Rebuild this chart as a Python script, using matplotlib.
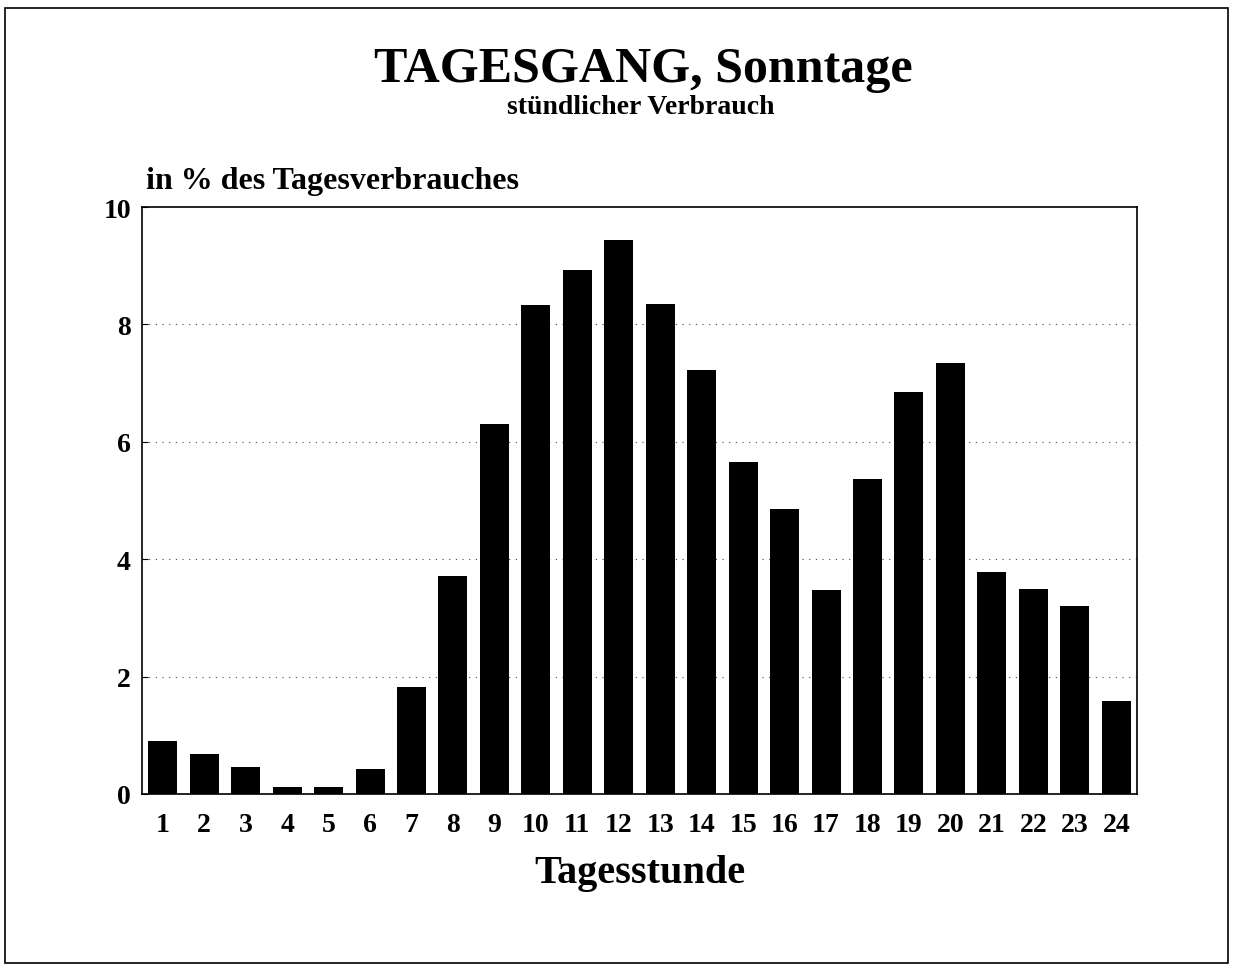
import matplotlib

matplotlib.use("Agg")
import matplotlib.pyplot as plt
from matplotlib.patches import Rectangle

# Stündlicher Verbrauch an Sonntagen, in % des Tagesverbrauches
hours = list(range(1, 25))
share = [
    0.90, 0.68, 0.46, 0.12, 0.12, 0.42, 1.82, 3.72, 6.31, 8.33, 8.93, 9.44,
    8.35, 7.23, 5.65, 4.85, 3.47, 5.36, 6.85, 7.35, 3.78, 3.49, 3.20, 1.58,
]
y_ticks = [0, 2, 4, 6, 8, 10]

plt.rcParams["font.family"] = ["Liberation Serif", "DejaVu Serif"]
plt.rcParams["font.weight"] = "bold"

fig = plt.figure(figsize=(12.33, 9.70), dpi=100)
ax = fig.add_axes([142 / 1233, 1 - 795 / 970, (1137 - 142) / 1233, (795 - 208) / 970])

ax.bar(hours, share, width=0.70, color="black", zorder=3)

ax.set_xlim(0.5, 24.5)
ax.set_ylim(0, 10)
ax.set_xticks(hours)
ax.set_yticks(y_ticks)
ax.tick_params(axis="both", labelsize=20, length=4, direction="in", pad=8)
ax.tick_params(axis="x", length=0, pad=13)
for lbl in ax.get_xticklabels() + ax.get_yticklabels():
    lbl.set_fontweight("bold")

for y in y_ticks[1:-1]:
    ax.axhline(y, color="#444444", linestyle=(0, (1, 5)), linewidth=0.8, zorder=1)

for side in ax.spines.values():
    side.set_linewidth(1.2)

ax.set_xlabel("Tagesstunde", fontsize=29, fontweight="bold", labelpad=12)

fig.text(0.522, 1 - 70 / 970, "TAGESGANG, Sonntage", ha="center", va="center",
         fontsize=36, fontweight="bold")
fig.text(0.52, 1 - 107 / 970, "stündlicher Verbrauch", ha="center", va="center",
         fontsize=20, fontweight="bold")
fig.text(146 / 1233, 1 - 182 / 970, "in % des Tagesverbrauches", ha="left",
         va="center", fontsize=23, fontweight="bold")

# Rahmen um das ganze Blatt
fig.patches.append(Rectangle((0.004, 0.006), 0.992, 0.985, transform=fig.transFigure,
                             fill=False, edgecolor="black", linewidth=1.2))

fig.savefig("out.png", dpi=100)
plt.close(fig)
